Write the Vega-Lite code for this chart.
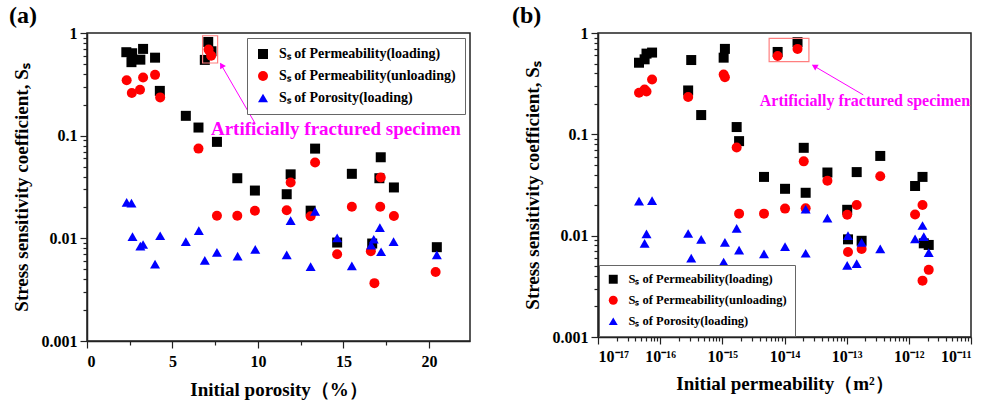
{
  "$schema": "https://vega.github.io/schema/vega-lite/v6.json",
  "padding": {"left": 8, "top": 3, "right": 5, "bottom": 2},
  "background": "white",
  "spacing": 40,
  "config": {
    "font": "Liberation Serif",
    "view": {"stroke": "#222", "strokeWidth": 1.5},
    "axis": {"labelFont": "Liberation Serif", "titleFont": "Liberation Serif", "labelFontWeight": "bold", "titleFontWeight": "bold", "labelFontSize": 16, "titleFontSize": 19, "labelColor": "#000", "titleColor": "#000", "tickColor": "#222", "domainColor": "#222", "domainWidth": 1.5, "tickWidth": 1.2, "grid": false},
    "title": {"font": "Liberation Serif", "fontWeight": "bold", "fontSize": 24, "color": "#000"},
    "text": {"font": "Liberation Serif", "fontWeight": 700}
  },
  "resolve": {"scale": {"color": "independent", "shape": "independent"}, "legend": {"color": "independent", "shape": "independent"}},
  "hconcat": [
    {
      "width": 383, "height": 308,
      "title": {"text": "(a)", "anchor": "start", "frame": "group", "dx": -78, "offset": -3},
      "resolve": {"axis": {"x": "independent", "y": "independent"}},
      "layer": [
        {
          "data": {"values": [
            {"porosity": 2.30, "Ss": 0.65, "series": "Sₛ of Permeability(loading)"},
            {"porosity": 2.64, "Ss": 0.635, "series": "Sₛ of Permeability(loading)"},
            {"porosity": 2.60, "Ss": 0.52, "series": "Sₛ of Permeability(loading)"},
            {"porosity": 3.12, "Ss": 0.55, "series": "Sₛ of Permeability(loading)"},
            {"porosity": 3.28, "Ss": 0.70, "series": "Sₛ of Permeability(loading)"},
            {"porosity": 3.98, "Ss": 0.575, "series": "Sₛ of Permeability(loading)"},
            {"porosity": 4.26, "Ss": 0.273, "series": "Sₛ of Permeability(loading)"},
            {"porosity": 5.78, "Ss": 0.156, "series": "Sₛ of Permeability(loading)"},
            {"porosity": 6.52, "Ss": 0.12, "series": "Sₛ of Permeability(loading)"},
            {"porosity": 6.89, "Ss": 0.547, "series": "Sₛ of Permeability(loading)"},
            {"porosity": 7.09, "Ss": 0.818, "series": "Sₛ of Permeability(loading)"},
            {"porosity": 7.28, "Ss": 0.664, "series": "Sₛ of Permeability(loading)"},
            {"porosity": 7.60, "Ss": 0.087, "series": "Sₛ of Permeability(loading)"},
            {"porosity": 8.79, "Ss": 0.0385, "series": "Sₛ of Permeability(loading)"},
            {"porosity": 9.82, "Ss": 0.0292, "series": "Sₛ of Permeability(loading)"},
            {"porosity": 11.68, "Ss": 0.0269, "series": "Sₛ of Permeability(loading)"},
            {"porosity": 11.91, "Ss": 0.042, "series": "Sₛ of Permeability(loading)"},
            {"porosity": 13.08, "Ss": 0.0186, "series": "Sₛ of Permeability(loading)"},
            {"porosity": 13.34, "Ss": 0.0748, "series": "Sₛ of Permeability(loading)"},
            {"porosity": 14.63, "Ss": 0.0091, "series": "Sₛ of Permeability(loading)"},
            {"porosity": 15.49, "Ss": 0.0425, "series": "Sₛ of Permeability(loading)"},
            {"porosity": 16.68, "Ss": 0.0089, "series": "Sₛ of Permeability(loading)"},
            {"porosity": 17.10, "Ss": 0.0385, "series": "Sₛ of Permeability(loading)"},
            {"porosity": 17.18, "Ss": 0.0616, "series": "Sₛ of Permeability(loading)"},
            {"porosity": 17.95, "Ss": 0.0313, "series": "Sₛ of Permeability(loading)"},
            {"porosity": 20.46, "Ss": 0.0082, "series": "Sₛ of Permeability(loading)"},
            {"porosity": 2.32, "Ss": 0.347, "series": "Sₛ of Permeability(unloading)"},
            {"porosity": 2.62, "Ss": 0.26, "series": "Sₛ of Permeability(unloading)"},
            {"porosity": 3.10, "Ss": 0.28, "series": "Sₛ of Permeability(unloading)"},
            {"porosity": 3.28, "Ss": 0.368, "series": "Sₛ of Permeability(unloading)"},
            {"porosity": 3.98, "Ss": 0.391, "series": "Sₛ of Permeability(unloading)"},
            {"porosity": 4.28, "Ss": 0.236, "series": "Sₛ of Permeability(unloading)"},
            {"porosity": 6.52, "Ss": 0.0748, "series": "Sₛ of Permeability(unloading)"},
            {"porosity": 7.11, "Ss": 0.689, "series": "Sₛ of Permeability(unloading)"},
            {"porosity": 7.26, "Ss": 0.602, "series": "Sₛ of Permeability(unloading)"},
            {"porosity": 7.60, "Ss": 0.0166, "series": "Sₛ of Permeability(unloading)"},
            {"porosity": 8.79, "Ss": 0.0166, "series": "Sₛ of Permeability(unloading)"},
            {"porosity": 9.82, "Ss": 0.0186, "series": "Sₛ of Permeability(unloading)"},
            {"porosity": 11.68, "Ss": 0.0188, "series": "Sₛ of Permeability(unloading)"},
            {"porosity": 11.91, "Ss": 0.035, "series": "Sₛ of Permeability(unloading)"},
            {"porosity": 13.08, "Ss": 0.0164, "series": "Sₛ of Permeability(unloading)"},
            {"porosity": 13.34, "Ss": 0.0547, "series": "Sₛ of Permeability(unloading)"},
            {"porosity": 14.63, "Ss": 0.007, "series": "Sₛ of Permeability(unloading)"},
            {"porosity": 15.49, "Ss": 0.0203, "series": "Sₛ of Permeability(unloading)"},
            {"porosity": 16.60, "Ss": 0.0075, "series": "Sₛ of Permeability(unloading)"},
            {"porosity": 16.81, "Ss": 0.00366, "series": "Sₛ of Permeability(unloading)"},
            {"porosity": 17.15, "Ss": 0.0203, "series": "Sₛ of Permeability(unloading)"},
            {"porosity": 17.18, "Ss": 0.0391, "series": "Sₛ of Permeability(unloading)"},
            {"porosity": 17.95, "Ss": 0.0165, "series": "Sₛ of Permeability(unloading)"},
            {"porosity": 20.39, "Ss": 0.0047, "series": "Sₛ of Permeability(unloading)"},
            {"porosity": 2.32, "Ss": 0.0224, "series": "Sₛ of Porosity(loading)"},
            {"porosity": 2.60, "Ss": 0.022, "series": "Sₛ of Porosity(loading)"},
            {"porosity": 2.66, "Ss": 0.0104, "series": "Sₛ of Porosity(loading)"},
            {"porosity": 3.12, "Ss": 0.0084, "series": "Sₛ of Porosity(loading)"},
            {"porosity": 3.28, "Ss": 0.0087, "series": "Sₛ of Porosity(loading)"},
            {"porosity": 3.98, "Ss": 0.0056, "series": "Sₛ of Porosity(loading)"},
            {"porosity": 4.28, "Ss": 0.0106, "series": "Sₛ of Porosity(loading)"},
            {"porosity": 5.78, "Ss": 0.0093, "series": "Sₛ of Porosity(loading)"},
            {"porosity": 6.54, "Ss": 0.0119, "series": "Sₛ of Porosity(loading)"},
            {"porosity": 6.89, "Ss": 0.0061, "series": "Sₛ of Porosity(loading)"},
            {"porosity": 7.60, "Ss": 0.0073, "series": "Sₛ of Porosity(loading)"},
            {"porosity": 8.81, "Ss": 0.0067, "series": "Sₛ of Porosity(loading)"},
            {"porosity": 9.84, "Ss": 0.0078, "series": "Sₛ of Porosity(loading)"},
            {"porosity": 11.68, "Ss": 0.0069, "series": "Sₛ of Porosity(loading)"},
            {"porosity": 11.91, "Ss": 0.0149, "series": "Sₛ of Porosity(loading)"},
            {"porosity": 13.08, "Ss": 0.0053, "series": "Sₛ of Porosity(loading)"},
            {"porosity": 13.34, "Ss": 0.0183, "series": "Sₛ of Porosity(loading)"},
            {"porosity": 14.63, "Ss": 0.0101, "series": "Sₛ of Porosity(loading)"},
            {"porosity": 15.49, "Ss": 0.0054, "series": "Sₛ of Porosity(loading)"},
            {"porosity": 16.62, "Ss": 0.0086, "series": "Sₛ of Porosity(loading)"},
            {"porosity": 16.77, "Ss": 0.0098, "series": "Sₛ of Porosity(loading)"},
            {"porosity": 17.13, "Ss": 0.0127, "series": "Sₛ of Porosity(loading)"},
            {"porosity": 17.20, "Ss": 0.0074, "series": "Sₛ of Porosity(loading)"},
            {"porosity": 17.93, "Ss": 0.0093, "series": "Sₛ of Porosity(loading)"},
            {"porosity": 20.46, "Ss": 0.0069, "series": "Sₛ of Porosity(loading)"}
          ]},
          "mark": {"type": "point", "filled": true, "opacity": 1, "size": 100},
          "encoding": {
            "x": {"field": "porosity", "type": "quantitative", "scale": {"domain": [0, 22.4], "nice": false, "zero": false},
              "axis": {"values": [0, 5, 10, 15, 20], "format": "d", "title": "Initial porosity（%）", "tickSize": 7, "labelPadding": 5, "titlePadding": 11}},
            "y": {"field": "Ss", "type": "quantitative", "scale": {"type": "log", "domain": [0.001, 1], "nice": false},
              "axis": {"values": [0.001, 0.01, 0.1, 1], "labelExpr": "format(datum.value, '~g')", "title": "Stress sensitivity coefficient, Sₛ", "tickSize": 7, "labelPadding": 3, "titlePadding": 10}},
            "color": {"field": "series", "type": "nominal",
              "scale": {"domain": ["Sₛ of Permeability(loading)", "Sₛ of Permeability(unloading)", "Sₛ of Porosity(loading)"], "range": ["#000000", "#FF0000", "#0000FF"]},
              "legend": {"title": null, "orient": "top-right", "offset": 5, "padding": 9, "fillColor": "white", "strokeColor": "#666", "labelFont": "Liberation Serif", "labelFontWeight": "bold", "labelFontSize": 14, "labelColor": "#000", "labelLimit": 400, "symbolSize": 100, "rowPadding": 8, "labelOffset": 9}},
            "shape": {"field": "series", "type": "nominal",
              "scale": {"domain": ["Sₛ of Permeability(loading)", "Sₛ of Permeability(unloading)", "Sₛ of Porosity(loading)"], "range": ["square", "circle", "triangle-up"]},
              "legend": {"title": null, "orient": "top-right", "offset": 5, "padding": 9, "fillColor": "white", "strokeColor": "#666", "labelFont": "Liberation Serif", "labelFontWeight": "bold", "labelFontSize": 14, "labelColor": "#000", "labelLimit": 400, "symbolSize": 100, "rowPadding": 8, "labelOffset": 9}}
          }
        },
        {
          "data": {"values": [{"x": 6.76, "x2": 7.64, "y": 0.51, "y2": 0.94}]},
          "mark": {"type": "rect", "fillOpacity": 0, "stroke": "#FF7F7F", "strokeWidth": 1.2},
          "encoding": {
            "x": {"field": "x", "type": "quantitative", "scale": {"domain": [0, 22.4], "nice": false, "zero": false},
              "axis": {"orient": "bottom", "values": [2.5, 7.5, 12.5, 17.5, 22.5], "labels": false, "title": null, "tickSize": 4, "domain": false}},
            "x2": {"field": "x2"},
            "y": {"field": "y", "type": "quantitative", "scale": {"type": "log", "domain": [0.001, 1], "nice": false},
              "axis": {"orient": "left", "values": [0.002, 0.003, 0.004, 0.005, 0.006, 0.007, 0.008, 0.009, 0.02, 0.03, 0.04, 0.05, 0.06, 0.07, 0.08, 0.09, 0.2, 0.3, 0.4, 0.5, 0.6, 0.7, 0.8, 0.9], "labels": false, "title": null, "tickSize": 4, "domain": false}},
            "y2": {"field": "y2"}
          }
        },
        {
          "data": {"values": [{"x": 9.84, "y": 0.131, "x2": 7.80, "y2": 0.505}]},
          "mark": {"type": "rule", "color": "#FF00FF", "strokeWidth": 1},
          "encoding": {
            "x": {"field": "x", "type": "quantitative", "axis": null},
            "y": {"field": "y", "type": "quantitative", "axis": null},
            "x2": {"field": "x2"}, "y2": {"field": "y2"}
          }
        },
        {
          "data": {"values": [{"x": 7.87, "y": 0.486}]},
          "mark": {"type": "point", "shape": "triangle-up", "filled": true, "color": "#FF00FF", "opacity": 1, "size": 45, "angle": 330},
          "encoding": {
            "x": {"field": "x", "type": "quantitative", "axis": null},
            "y": {"field": "y", "type": "quantitative", "axis": null}
          }
        },
        {
          "data": {"values": [{"x": 7.25, "y": 0.117, "label": "Artificially fractured specimen"}]},
          "mark": {"type": "text", "align": "left", "baseline": "middle", "fontSize": 19, "fontWeight": 700, "font": "Liberation Serif", "color": "#FF00FF"},
          "encoding": {
            "x": {"field": "x", "type": "quantitative", "axis": null},
            "y": {"field": "y", "type": "quantitative", "axis": null},
            "text": {"field": "label"}
          }
        }
      ]
    },
    {
      "width": 373, "height": 304,
      "title": {"text": "(b)", "anchor": "start", "frame": "group", "dx": -86, "offset": -3},
      "resolve": {"axis": {"x": "independent", "y": "independent"}},
      "layer": [
        {
          "data": {"values": [
            {"perm": 4.57e-17, "Ss": 0.509, "series": "Sₛ of Permeability(loading)"},
            {"perm": 5.62e-17, "Ss": 0.55, "series": "Sₛ of Permeability(loading)"},
            {"perm": 6.03e-17, "Ss": 0.626, "series": "Sₛ of Permeability(loading)"},
            {"perm": 7.41e-17, "Ss": 0.641, "series": "Sₛ of Permeability(loading)"},
            {"perm": 2.82e-16, "Ss": 0.271, "series": "Sₛ of Permeability(loading)"},
            {"perm": 3.16e-16, "Ss": 0.541, "series": "Sₛ of Permeability(loading)"},
            {"perm": 4.57e-16, "Ss": 0.155, "series": "Sₛ of Permeability(loading)"},
            {"perm": 1.05e-15, "Ss": 0.571, "series": "Sₛ of Permeability(loading)"},
            {"perm": 1.10e-15, "Ss": 0.697, "series": "Sₛ of Permeability(loading)"},
            {"perm": 1.70e-15, "Ss": 0.118, "series": "Sₛ of Permeability(loading)"},
            {"perm": 1.86e-15, "Ss": 0.0857, "series": "Sₛ of Permeability(loading)"},
            {"perm": 4.68e-15, "Ss": 0.038, "series": "Sₛ of Permeability(loading)"},
            {"perm": 7.76e-15, "Ss": 0.65, "series": "Sₛ of Permeability(loading)"},
            {"perm": 1.02e-14, "Ss": 0.029, "series": "Sₛ of Permeability(loading)"},
            {"perm": 1.62e-14, "Ss": 0.813, "series": "Sₛ of Permeability(loading)"},
            {"perm": 2.04e-14, "Ss": 0.0736, "series": "Sₛ of Permeability(loading)"},
            {"perm": 2.19e-14, "Ss": 0.0265, "series": "Sₛ of Permeability(loading)"},
            {"perm": 4.90e-14, "Ss": 0.042, "series": "Sₛ of Permeability(loading)"},
            {"perm": 1.02e-13, "Ss": 0.018, "series": "Sₛ of Permeability(loading)"},
            {"perm": 1.05e-13, "Ss": 0.0092, "series": "Sₛ of Permeability(loading)"},
            {"perm": 1.45e-13, "Ss": 0.0424, "series": "Sₛ of Permeability(loading)"},
            {"perm": 1.74e-13, "Ss": 0.0089, "series": "Sₛ of Permeability(loading)"},
            {"perm": 3.47e-13, "Ss": 0.0612, "series": "Sₛ of Permeability(loading)"},
            {"perm": 1.26e-12, "Ss": 0.0309, "series": "Sₛ of Permeability(loading)"},
            {"perm": 1.66e-12, "Ss": 0.038, "series": "Sₛ of Permeability(loading)"},
            {"perm": 1.74e-12, "Ss": 0.0084, "series": "Sₛ of Permeability(loading)"},
            {"perm": 2.09e-12, "Ss": 0.0081, "series": "Sₛ of Permeability(loading)"},
            {"perm": 4.57e-17, "Ss": 0.257, "series": "Sₛ of Permeability(unloading)"},
            {"perm": 5.62e-17, "Ss": 0.277, "series": "Sₛ of Permeability(unloading)"},
            {"perm": 6.03e-17, "Ss": 0.265, "series": "Sₛ of Permeability(unloading)"},
            {"perm": 7.41e-17, "Ss": 0.347, "series": "Sₛ of Permeability(unloading)"},
            {"perm": 2.82e-16, "Ss": 0.234, "series": "Sₛ of Permeability(unloading)"},
            {"perm": 1.05e-15, "Ss": 0.389, "series": "Sₛ of Permeability(unloading)"},
            {"perm": 1.10e-15, "Ss": 0.366, "series": "Sₛ of Permeability(unloading)"},
            {"perm": 1.70e-15, "Ss": 0.0741, "series": "Sₛ of Permeability(unloading)"},
            {"perm": 1.86e-15, "Ss": 0.0165, "series": "Sₛ of Permeability(unloading)"},
            {"perm": 4.68e-15, "Ss": 0.0165, "series": "Sₛ of Permeability(unloading)"},
            {"perm": 7.76e-15, "Ss": 0.593, "series": "Sₛ of Permeability(unloading)"},
            {"perm": 1.02e-14, "Ss": 0.0185, "series": "Sₛ of Permeability(unloading)"},
            {"perm": 1.62e-14, "Ss": 0.697, "series": "Sₛ of Permeability(unloading)"},
            {"perm": 2.04e-14, "Ss": 0.0541, "series": "Sₛ of Permeability(unloading)"},
            {"perm": 2.19e-14, "Ss": 0.0186, "series": "Sₛ of Permeability(unloading)"},
            {"perm": 4.90e-14, "Ss": 0.0349, "series": "Sₛ of Permeability(unloading)"},
            {"perm": 1.02e-13, "Ss": 0.0161, "series": "Sₛ of Permeability(unloading)"},
            {"perm": 1.05e-13, "Ss": 0.0069, "series": "Sₛ of Permeability(unloading)"},
            {"perm": 1.45e-13, "Ss": 0.0201, "series": "Sₛ of Permeability(unloading)"},
            {"perm": 1.74e-13, "Ss": 0.0074, "series": "Sₛ of Permeability(unloading)"},
            {"perm": 3.47e-13, "Ss": 0.0386, "series": "Sₛ of Permeability(unloading)"},
            {"perm": 1.26e-12, "Ss": 0.0162, "series": "Sₛ of Permeability(unloading)"},
            {"perm": 1.66e-12, "Ss": 0.0201, "series": "Sₛ of Permeability(unloading)"},
            {"perm": 1.66e-12, "Ss": 0.0036, "series": "Sₛ of Permeability(unloading)"},
            {"perm": 2.09e-12, "Ss": 0.0046, "series": "Sₛ of Permeability(unloading)"},
            {"perm": 4.57e-17, "Ss": 0.0219, "series": "Sₛ of Porosity(loading)"},
            {"perm": 5.62e-17, "Ss": 0.0084, "series": "Sₛ of Porosity(loading)"},
            {"perm": 6.03e-17, "Ss": 0.0104, "series": "Sₛ of Porosity(loading)"},
            {"perm": 7.41e-17, "Ss": 0.0222, "series": "Sₛ of Porosity(loading)"},
            {"perm": 2.82e-16, "Ss": 0.0105, "series": "Sₛ of Porosity(loading)"},
            {"perm": 3.16e-16, "Ss": 0.006, "series": "Sₛ of Porosity(loading)"},
            {"perm": 4.57e-16, "Ss": 0.0092, "series": "Sₛ of Porosity(loading)"},
            {"perm": 1.05e-15, "Ss": 0.0055, "series": "Sₛ of Porosity(loading)"},
            {"perm": 1.10e-15, "Ss": 0.0086, "series": "Sₛ of Porosity(loading)"},
            {"perm": 1.70e-15, "Ss": 0.0118, "series": "Sₛ of Porosity(loading)"},
            {"perm": 1.86e-15, "Ss": 0.0072, "series": "Sₛ of Porosity(loading)"},
            {"perm": 4.68e-15, "Ss": 0.0066, "series": "Sₛ of Porosity(loading)"},
            {"perm": 1.02e-14, "Ss": 0.0078, "series": "Sₛ of Porosity(loading)"},
            {"perm": 2.19e-14, "Ss": 0.0183, "series": "Sₛ of Porosity(loading)"},
            {"perm": 2.19e-14, "Ss": 0.0067, "series": "Sₛ of Porosity(loading)"},
            {"perm": 4.90e-14, "Ss": 0.0149, "series": "Sₛ of Porosity(loading)"},
            {"perm": 1.02e-13, "Ss": 0.0051, "series": "Sₛ of Porosity(loading)"},
            {"perm": 1.05e-13, "Ss": 0.01, "series": "Sₛ of Porosity(loading)"},
            {"perm": 1.45e-13, "Ss": 0.0053, "series": "Sₛ of Porosity(loading)"},
            {"perm": 1.74e-13, "Ss": 0.0086, "series": "Sₛ of Porosity(loading)"},
            {"perm": 3.47e-13, "Ss": 0.0074, "series": "Sₛ of Porosity(loading)"},
            {"perm": 1.26e-12, "Ss": 0.0093, "series": "Sₛ of Porosity(loading)"},
            {"perm": 1.66e-12, "Ss": 0.0126, "series": "Sₛ of Porosity(loading)"},
            {"perm": 1.74e-12, "Ss": 0.0098, "series": "Sₛ of Porosity(loading)"},
            {"perm": 2.09e-12, "Ss": 0.0068, "series": "Sₛ of Porosity(loading)"}
          ]},
          "mark": {"type": "point", "filled": true, "opacity": 1, "size": 100},
          "encoding": {
            "x": {"field": "perm", "type": "quantitative", "scale": {"type": "log", "domain": [1e-17, 1e-11], "nice": false},
              "axis": {"values": [1e-17, 1e-16, 1e-15, 1e-14, 1e-13, 1e-12, 1e-11], "labelExpr": "'10' + ['⁻¹⁷','⁻¹⁶','⁻¹⁵','⁻¹⁴','⁻¹³','⁻¹²','⁻¹¹'][round(log(datum.value)/LN10) + 17]", "title": "Initial permeability（m²）", "tickSize": 7, "labelPadding": 4, "titlePadding": 10}},
            "y": {"field": "Ss", "type": "quantitative", "scale": {"type": "log", "domain": [0.001, 1], "nice": false},
              "axis": {"values": [0.001, 0.01, 0.1, 1], "labelExpr": "format(datum.value, '~g')", "title": "Stress sensitivity coefficient, Sₛ", "tickSize": 7, "labelPadding": 3, "titlePadding": 10}},
            "color": {"field": "series", "type": "nominal",
              "scale": {"domain": ["Sₛ of Permeability(loading)", "Sₛ of Permeability(unloading)", "Sₛ of Porosity(loading)"], "range": ["#000000", "#FF0000", "#0000FF"]},
              "legend": {"title": null, "orient": "bottom-left", "offset": 1, "padding": 8, "fillColor": "white", "strokeColor": "#666", "labelFont": "Liberation Serif", "labelFontWeight": "bold", "labelFontSize": 12.5, "labelColor": "#000", "labelLimit": 400, "symbolSize": 80, "rowPadding": 8, "labelOffset": 9}},
            "shape": {"field": "series", "type": "nominal",
              "scale": {"domain": ["Sₛ of Permeability(loading)", "Sₛ of Permeability(unloading)", "Sₛ of Porosity(loading)"], "range": ["square", "circle", "triangle-up"]},
              "legend": {"title": null, "orient": "bottom-left", "offset": 1, "padding": 8, "fillColor": "white", "strokeColor": "#666", "labelFont": "Liberation Serif", "labelFontWeight": "bold", "labelFontSize": 12.5, "labelColor": "#000", "labelLimit": 400, "symbolSize": 80, "rowPadding": 8, "labelOffset": 9}}
          }
        },
        {
          "data": {"values": [{"x": 5.66e-15, "x2": 2.47e-14, "y": 0.521, "y2": 0.885}]},
          "mark": {"type": "rect", "fillOpacity": 0, "stroke": "#FF7F7F", "strokeWidth": 1.2},
          "encoding": {
            "x": {"field": "x", "type": "quantitative", "scale": {"type": "log", "domain": [1e-17, 1e-11], "nice": false},
              "axis": {"orient": "bottom", "values": [2e-17, 3e-17, 4e-17, 5e-17, 6e-17, 7e-17, 8e-17, 9e-17, 2e-16, 3e-16, 4e-16, 5e-16, 6e-16, 7e-16, 8e-16, 9e-16, 2e-15, 3e-15, 4e-15, 5e-15, 6e-15, 7e-15, 8e-15, 9e-15, 2e-14, 3e-14, 4e-14, 5e-14, 6e-14, 7e-14, 8e-14, 9e-14, 2e-13, 3e-13, 4e-13, 5e-13, 6e-13, 7e-13, 8e-13, 9e-13, 2e-12, 3e-12, 4e-12, 5e-12, 6e-12, 7e-12, 8e-12, 9e-12], "labels": false, "title": null, "tickSize": 4, "domain": false}},
            "x2": {"field": "x2"},
            "y": {"field": "y", "type": "quantitative", "scale": {"type": "log", "domain": [0.001, 1], "nice": false},
              "axis": {"orient": "left", "values": [0.002, 0.003, 0.004, 0.005, 0.006, 0.007, 0.008, 0.009, 0.02, 0.03, 0.04, 0.05, 0.06, 0.07, 0.08, 0.09, 0.2, 0.3, 0.4, 0.5, 0.6, 0.7, 0.8, 0.9], "labels": false, "title": null, "tickSize": 4, "domain": false}},
            "y2": {"field": "y2"}
          }
        },
        {
          "data": {"values": [{"x": 1.85e-13, "y": 0.245, "x2": 2.85e-14, "y2": 0.48}]},
          "mark": {"type": "rule", "color": "#FF00FF", "strokeWidth": 1},
          "encoding": {
            "x": {"field": "x", "type": "quantitative", "axis": null},
            "y": {"field": "y", "type": "quantitative", "axis": null},
            "x2": {"field": "x2"}, "y2": {"field": "y2"}
          }
        },
        {
          "data": {"values": [{"x": 3.03e-14, "y": 0.47}]},
          "mark": {"type": "point", "shape": "triangle-up", "filled": true, "color": "#FF00FF", "opacity": 1, "size": 45, "angle": 301},
          "encoding": {
            "x": {"field": "x", "type": "quantitative", "axis": null},
            "y": {"field": "y", "type": "quantitative", "axis": null}
          }
        },
        {
          "data": {"values": [{"x": 4.0e-15, "y": 0.214, "label": "Artificially fractured specimen"}]},
          "mark": {"type": "text", "align": "left", "baseline": "middle", "fontSize": 16, "fontWeight": 700, "font": "Liberation Serif", "color": "#FF00FF"},
          "encoding": {
            "x": {"field": "x", "type": "quantitative", "axis": null},
            "y": {"field": "y", "type": "quantitative", "axis": null},
            "text": {"field": "label"}
          }
        }
      ]
    }
  ]
}
